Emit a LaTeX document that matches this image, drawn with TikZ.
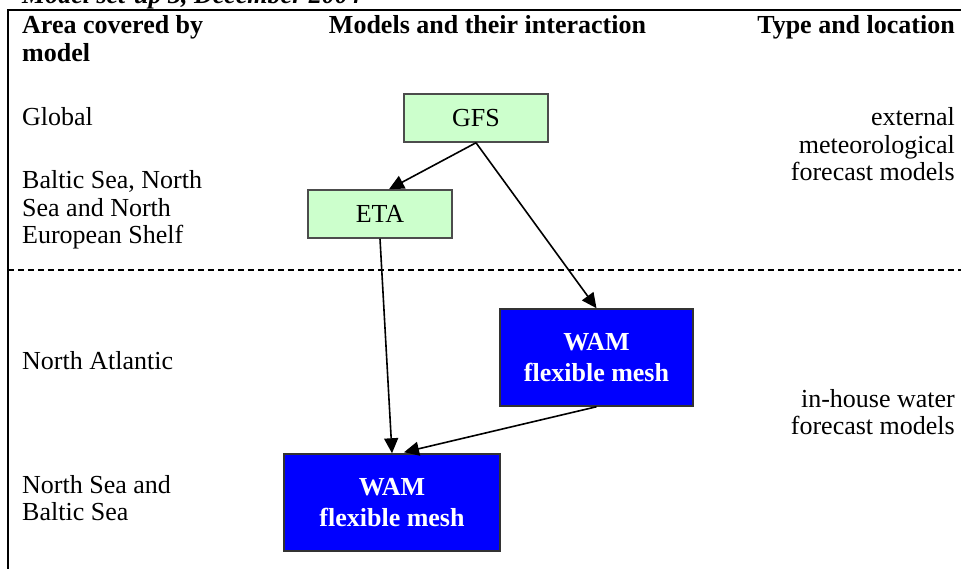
\documentclass[tikz,border=0pt]{standalone}
\usepackage{fontspec}
\setmainfont{Liberation Serif}
\usetikzlibrary{arrows.meta}
\definecolor{lgreen}{HTML}{CCFFCC}
\definecolor{wblue}{HTML}{0000FF}
\begin{document}
\begin{tikzpicture}[x=1pt,y=-1pt,
  txt/.style={font=\fontsize{26}{27.5}\selectfont, inner sep=0pt},
  hdr/.style={txt, font=\fontsize{26}{27.5}\selectfont\bfseries},
  greenbox/.style={draw=black!70, line width=1.5pt, fill=lgreen, minimum width=144pt, minimum height=48pt, font=\fontsize{26}{27.5}\selectfont, inner sep=0pt},
  bluebox/.style={draw=black!80, line width=1.5pt, fill=wblue, text=white, font=\fontsize{26}{31}\selectfont\bfseries, align=center, inner sep=0pt},
  conn/.style={line width=1.6pt, -{Triangle[length=15pt,width=14pt]}}]
\useasboundingbox (0,0) rectangle (961,569);
\fill[white] (0,0) rectangle (961,569);
% frame
\draw[line width=2pt] (8,569) -- (8,10) -- (961,10);
\draw[line width=1.3pt, dash pattern=on 6pt off 4pt] (8,270) -- (961,270);
% title (cut at top, as in the reference)
\node[txt, anchor=base west, font=\fontsize{26}{27.5}\selectfont\bfseries\itshape] (title) at (22,4) {Model set-up 3, December 2004};
% headers
\node[hdr, anchor=base west, align=left] (h1) at (22,61.5) {Area covered by\\model};
\node[hdr, anchor=base] (h2) at (487.5,34) {Models and their interaction};
\node[hdr, anchor=base east] (h3) at (955,34) {Type and location};
% left column
\node[txt, anchor=base west] (l1) at (22,126) {Global};
\node[txt, anchor=base west, align=left] (l2) at (22,244) {Baltic Sea, North\\Sea and North\\European Shelf};
\node[txt, anchor=base west] (l3) at (22,369) {North Atlantic};
\node[txt, anchor=base west, align=left] (l4) at (22,520.5) {North Sea and\\Baltic Sea};
% right column
\node[txt, anchor=base east, align=right] (r1) at (955,181) {external\\meteorological\\forecast models};
\node[txt, anchor=base east, align=right] (r2) at (955,434.5) {in-house water\\forecast models};
% nodes
\node[greenbox] (gfs) at (476,118) {GFS};
\node[greenbox] (eta) at (380,214) {ETA};
\node[bluebox, minimum width=193pt, minimum height=97pt] (wam1) at (596.5,357.5) {WAM\\flexible mesh};
\node[bluebox, minimum width=216pt, minimum height=97pt] (wam2) at (392,502.5) {WAM\\flexible mesh};
% connectors
\draw[conn] (gfs.south) -- ([xshift=9pt]eta.north);
\draw[conn] (gfs.south) -- (wam1.north);
\draw[conn] (eta.south) -- ([xshift=0pt]wam2.north);
\draw[conn] (wam1.south) -- ([xshift=12pt,yshift=1pt]wam2.north);
\end{tikzpicture}
\end{document}
